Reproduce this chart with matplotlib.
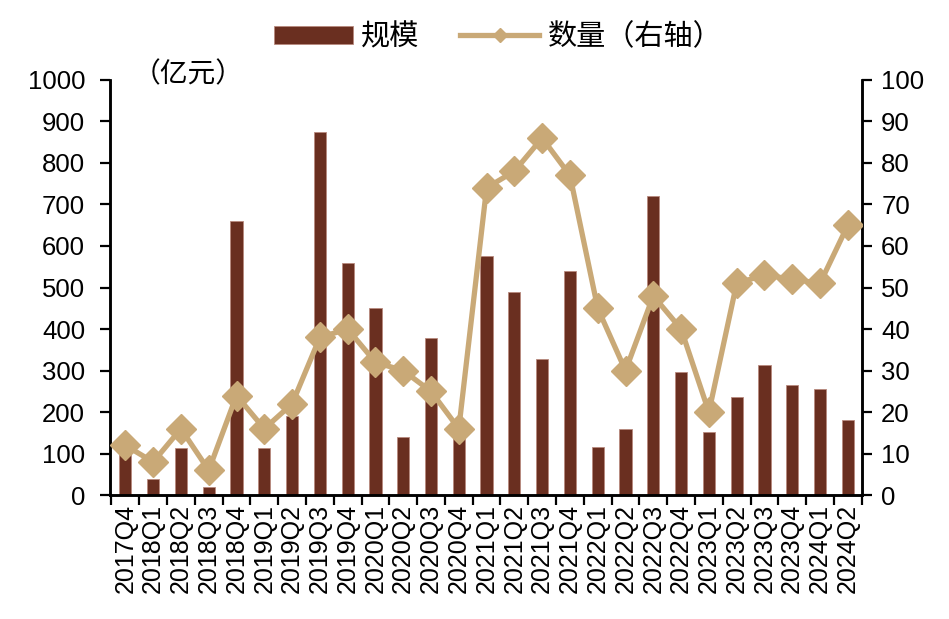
import numpy as np
import matplotlib
matplotlib.use('Agg')
import matplotlib.pyplot as plt
from matplotlib.ticker import FixedLocator

plt.rcParams['font.family'] = ['Liberation Sans', 'Noto Sans CJK SC']

quarters = ['2017Q4', '2018Q1', '2018Q2', '2018Q3', '2018Q4', '2019Q1', '2019Q2',
            '2019Q3', '2019Q4', '2020Q1', '2020Q2', '2020Q3', '2020Q4', '2021Q1',
            '2021Q2', '2021Q3', '2021Q4', '2022Q1', '2022Q2', '2022Q3', '2022Q4',
            '2023Q1', '2023Q2', '2023Q3', '2023Q4', '2024Q1', '2024Q2']
scale = [105, 40, 113, 19, 660, 113, 190, 875, 558, 450, 140, 378, 150, 575,
         490, 327, 540, 116, 159, 720, 296, 152, 236, 313, 265, 255, 181]
count = [12, 8, 16, 6, 24, 16, 22, 38, 40, 32, 30, 25, 16, 74,
         78, 86, 77, 45, 30, 48, 40, 20, 51, 53, 52, 51, 65]

bar_color = '#6A2F20'
line_color = '#C9A977'

fig = plt.figure(figsize=(9.49, 6.19), dpi=100)
ax = fig.add_axes([0.116, 0.2, 0.792, 0.671])
x = np.arange(len(quarters))

ax.bar(x, scale, width=0.44, color=bar_color, edgecolor='#B88A7E', linewidth=0.6,
       label='规模', zorder=2)
ax.set_ylim(0, 1000)
ax.set_yticks(range(0, 1001, 100))
ax.set_xlim(-0.55, 26.5)

ax2 = ax.twinx()
ax2.plot(x, count, color=line_color, linewidth=3.8, marker='D', markersize=15,
         label='数量（右轴）', zorder=3)
ax2.set_ylim(0, 100)
ax2.set_yticks(range(0, 101, 10))

ax.xaxis.set_major_locator(FixedLocator(np.arange(-0.5, 27, 1)))
ax.set_xticklabels([])
ax.xaxis.set_minor_locator(FixedLocator(x))
ax.set_xticklabels(quarters, minor=True, rotation=90, fontsize=18)
ax.tick_params(axis='x', which='minor', length=0, pad=6)
ax.tick_params(axis='x', which='major', length=7, width=1.6, direction='out')
ax.tick_params(axis='y', labelsize=18.5, length=7, width=1.6, direction='out', pad=11)
ax2.tick_params(axis='y', labelsize=18.5, length=7, width=1.6, direction='out', pad=7)

for a in (ax, ax2):
    a.spines['top'].set_visible(False)
    for s in ('left', 'right', 'bottom'):
        a.spines[s].set_linewidth(1.8)

fig.text(0.14, 0.879, '（亿元）', fontsize=20, ha='left', va='center')

h1, l1 = ax.get_legend_handles_labels()
h2, l2 = ax2.get_legend_handles_labels()
fig.legend(h1 + h2, l1 + l2, loc='center', bbox_to_anchor=(0.525, 0.94), ncol=2,
           frameon=False, fontsize=21, handlelength=2.7, handleheight=0.6,
           columnspacing=1.4, handletextpad=0.3, markerscale=0.5)

fig.savefig('out.png', dpi=100)
